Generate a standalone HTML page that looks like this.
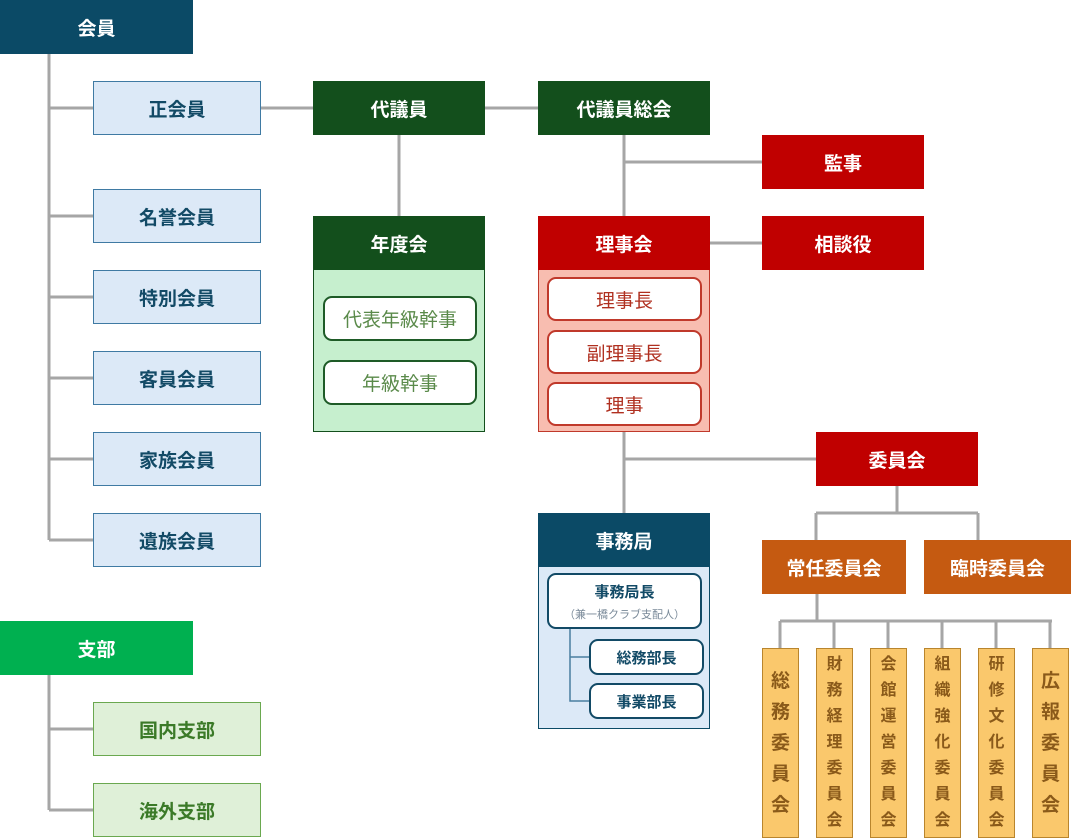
<!DOCTYPE html>
<html><head><meta charset="utf-8"><style>
*{margin:0;padding:0;box-sizing:border-box}
body{width:1071px;height:838px;background:#fff;position:relative;overflow:hidden;font-family:"Liberation Sans","Noto Sans CJK JP",sans-serif}
.b{position:absolute;display:flex;align-items:center;justify-content:center;font-weight:bold;font-size:19px;color:#fff}
.t{background:#0b4a66}
.m{background:#dce9f7;border:1px solid #3f7aa3;color:#124a66}
.dg{background:#134f1c}
.r{background:#c00000}
.o{background:#c55a11}
.lg{background:#dff0d8;border:1px solid #6aa84f;color:#3b7a28}
.w{position:absolute;background:#fff;border-radius:9px;display:flex;align-items:center;justify-content:center;font-size:19px}
.v{position:absolute;background:#fac86c;border:1px solid #b9852d;color:#8a5a1a;font-weight:bold;display:flex;flex-direction:column;align-items:center;justify-content:center;text-align:center}
svg{position:absolute;left:0;top:0}
</style></head><body>
<svg width="1071" height="838"><g stroke="#a6a6a6" stroke-width="3" fill="none">
<path d="M49 54V540M49 108H93M49 216H93M49 297H93M49 378H93M49 459H93M49 540H93"/>
<path d="M49 675V810M49 729H93M49 810H93"/>
<path d="M260 108H313M485 108H538M399 135V216"/>
<path d="M624 135V216M624 162H762M710 243H762"/>
<path d="M624 432V513M624 459H816"/>
<path d="M897 486V513M816 513H978M816 513V540M978 513V540"/>
<path d="M817 594V621M780 621H1052M780 621V648M834 621V648M888 621V648M942 621V648M996 621V648M1050 621V648"/>
</g></svg>

<div class="b t" style="left:0;top:0;width:193px;height:54px">会員</div>
<div class="b m" style="left:93px;top:81px;width:168px;height:54px">正会員</div>
<div class="b m" style="left:93px;top:189px;width:168px;height:54px">名誉会員</div>
<div class="b m" style="left:93px;top:270px;width:168px;height:54px">特別会員</div>
<div class="b m" style="left:93px;top:351px;width:168px;height:54px">客員会員</div>
<div class="b m" style="left:93px;top:432px;width:168px;height:54px">家族会員</div>
<div class="b m" style="left:93px;top:513px;width:168px;height:54px">遺族会員</div>

<div class="b" style="left:0;top:621px;width:193px;height:54px;background:#00b050">支部</div>
<div class="b lg" style="left:93px;top:702px;width:168px;height:54px">国内支部</div>
<div class="b lg" style="left:93px;top:783px;width:168px;height:54px">海外支部</div>

<div class="b dg" style="left:313px;top:81px;width:172px;height:54px">代議員</div>
<div class="b dg" style="left:538px;top:81px;width:172px;height:54px">代議員総会</div>

<div class="b dg" style="left:313px;top:216px;width:172px;height:54px">年度会</div>
<div style="position:absolute;left:313px;top:270px;width:172px;height:162px;background:#c6efce;border:1px solid #134f1c;border-top:none"></div>
<div class="w" style="left:323px;top:296px;width:154px;height:45px;border:2px solid #1e5b27;color:#5a8a4a">代表年級幹事</div>
<div class="w" style="left:323px;top:360px;width:154px;height:45px;border:2px solid #1e5b27;color:#5a8a4a">年級幹事</div>

<div class="b r" style="left:762px;top:135px;width:162px;height:54px">監事</div>
<div class="b r" style="left:538px;top:216px;width:172px;height:54px">理事会</div>
<div style="position:absolute;left:538px;top:270px;width:172px;height:162px;background:#f8bdb0;border:1px solid #c0392b;border-top:none"></div>
<div class="w" style="left:547px;top:277px;width:155px;height:44px;border:2px solid #c0392b;color:#b03020">理事長</div>
<div class="w" style="left:547px;top:330px;width:155px;height:44px;border:2px solid #c0392b;color:#b03020">副理事長</div>
<div class="w" style="left:547px;top:382px;width:155px;height:44px;border:2px solid #c0392b;color:#b03020">理事</div>
<div class="b r" style="left:762px;top:216px;width:162px;height:54px">相談役</div>

<div class="b r" style="left:816px;top:432px;width:162px;height:54px">委員会</div>
<div class="b o" style="left:762px;top:540px;width:144px;height:54px">常任委員会</div>
<div class="b o" style="left:924px;top:540px;width:147px;height:54px">臨時委員会</div>

<div class="b t" style="left:538px;top:513px;width:172px;height:54px">事務局</div>
<div style="position:absolute;left:538px;top:567px;width:172px;height:162px;background:#dce9f7;border:1px solid #0b4a66;border-top:none"></div>
<svg width="1071" height="838"><g stroke="#4a7fa0" stroke-width="1.5" fill="none"><path d="M570 629V701H590M570 657H590"/></g></svg>
<div class="w" style="left:547px;top:573px;width:155px;height:56px;border:2px solid #124a66;flex-direction:column;color:#124a66"><b style="font-size:15px">事務局長</b><span style="font-size:11px;color:#7a8a99;margin-top:4px">（兼一橋クラブ支配人）</span></div>
<div class="w" style="left:589px;top:639px;width:115px;height:36px;border:2px solid #124a66;color:#124a66;font-weight:bold;font-size:15px">総務部長</div>
<div class="w" style="left:589px;top:683px;width:115px;height:36px;border:2px solid #124a66;color:#124a66;font-weight:bold;font-size:15px">事業部長</div>

<div class="v" style="left:762px;top:648px;width:37px;height:190px;font-size:19px;line-height:31px">総<br>務<br>委<br>員<br>会</div>
<div class="v" style="left:816px;top:648px;width:37px;height:190px;font-size:16px;line-height:26px">財<br>務<br>経<br>理<br>委<br>員<br>会</div>
<div class="v" style="left:870px;top:648px;width:37px;height:190px;font-size:16px;line-height:26px">会<br>館<br>運<br>営<br>委<br>員<br>会</div>
<div class="v" style="left:924px;top:648px;width:37px;height:190px;font-size:16px;line-height:26px">組<br>織<br>強<br>化<br>委<br>員<br>会</div>
<div class="v" style="left:978px;top:648px;width:37px;height:190px;font-size:16px;line-height:26px">研<br>修<br>文<br>化<br>委<br>員<br>会</div>
<div class="v" style="left:1032px;top:648px;width:37px;height:190px;font-size:19px;line-height:31px">広<br>報<br>委<br>員<br>会</div>
</body></html>
